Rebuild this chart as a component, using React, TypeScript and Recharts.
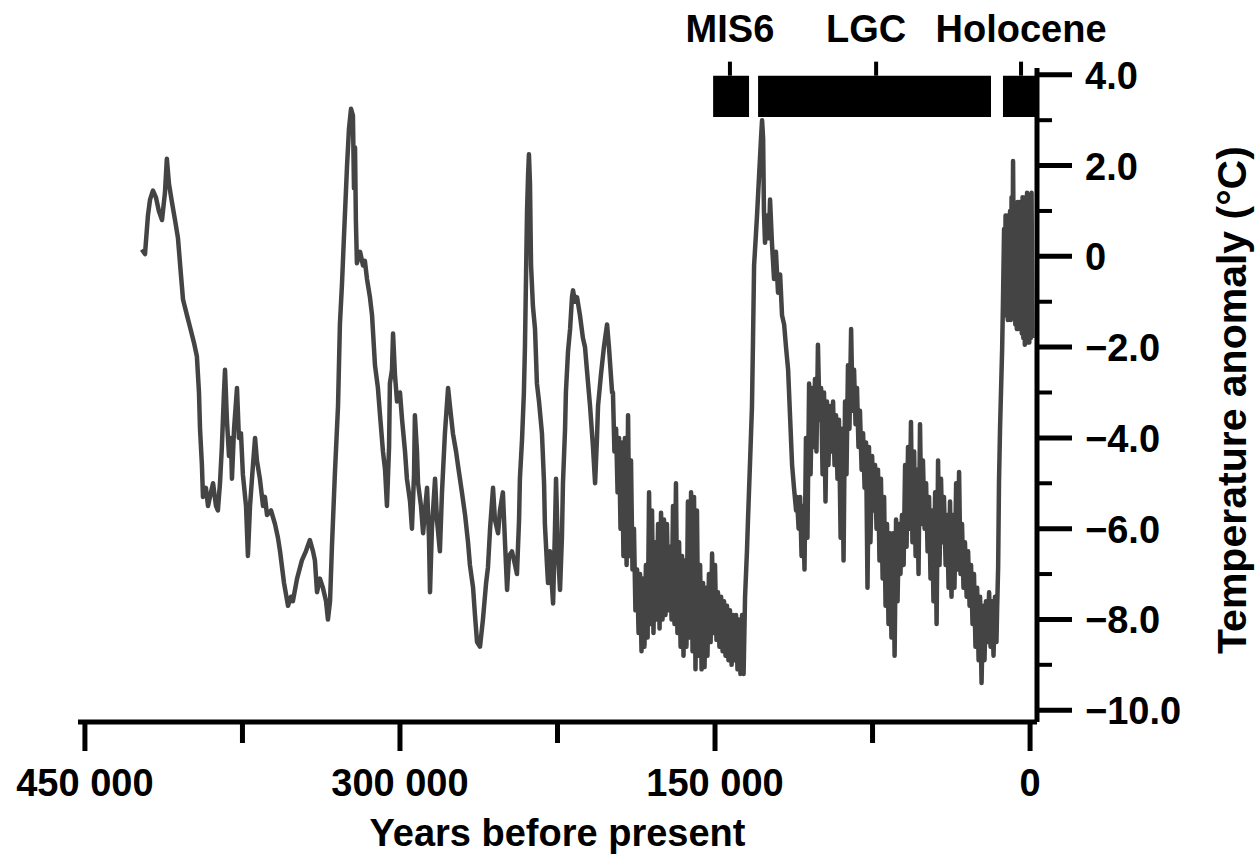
import React from 'react'
import { LineChart, Line, XAxis, YAxis, ReferenceArea, ReferenceLine } from 'recharts'

// age in thousands of years before present
const ageKyr = [
  422.9, 421.4, 420.0, 419.0, 417.6, 416.2, 414.8, 413.3, 411.9, 411.0,
  410.0, 408.6, 407.1, 405.7, 404.3, 403.3, 401.4, 400.0, 398.1, 396.7,
  395.7, 395.2, 394.3, 393.8, 392.4, 391.4, 390.0, 389.0, 387.6, 386.7,
  385.7, 384.8, 383.8, 383.3, 382.4, 381.4, 380.5, 380.0, 379.0, 377.6,
  376.7, 375.7, 374.8, 373.3, 372.4, 371.4, 370.0, 369.0, 368.1, 366.7,
  365.2, 364.3, 363.3, 361.4, 359.5, 358.1, 357.1, 355.2, 353.3, 351.9,
  351.0, 349.0, 346.7, 344.8, 342.9, 341.4, 340.5, 339.5, 338.1, 336.7,
  335.2, 334.3, 333.3, 332.4, 331.0, 329.5, 328.6, 327.6, 326.7, 325.2,
  324.3, 323.3, 322.4, 321.9, 321.4, 321.0, 320.5, 319.0, 317.6, 316.7,
  315.7, 314.3, 313.3, 311.9, 310.5, 309.5, 308.1, 307.1, 306.2, 305.2,
  304.8, 303.8, 303.3, 302.4, 301.4, 300.0, 299.0, 297.6, 296.7, 295.2,
  294.3, 293.3, 292.9, 291.9, 291.4, 290.0, 289.0, 288.1, 287.1, 286.2,
  285.7, 284.8, 283.3, 282.4, 281.0, 280.0, 278.6, 277.1, 276.2, 274.8,
  273.3, 272.4, 270.5, 269.0, 267.6, 266.7, 265.2, 264.3, 263.3, 261.9,
  260.5, 259.0, 258.1, 257.1, 255.7, 254.8, 253.3, 252.4, 251.0, 250.0,
  249.0, 248.1, 246.7, 245.2, 244.3, 243.3, 242.9, 241.9, 241.0, 240.5,
  240.0, 239.5, 239.0, 238.6, 238.1, 237.6, 236.7, 235.7, 234.8, 233.8,
  232.4, 231.4, 231.0, 230.0, 229.5, 228.6, 227.6, 227.1, 226.2, 225.7,
  224.8, 223.8, 222.9, 222.4, 221.4, 221.0, 220.0, 219.0, 218.1, 217.6,
  216.7, 215.7, 214.3, 212.9, 211.9, 211.0, 209.5, 208.1, 207.1, 206.2,
  205.7, 204.3, 202.9, 201.4, 200.5, 199.0,
  // penultimate glacial: upper / lower edge of the dense band
  198.6, 197.9, 197.1, 196.4, 195.7, 195.0, 194.3, 193.6, 192.9, 192.1,
  191.4, 190.7, 190.0, 189.3, 188.6, 187.9, 187.1, 186.4, 185.7, 185.0,
  184.3, 183.6, 182.9, 182.1, 181.4, 180.7, 180.0, 179.3, 178.6, 177.9,
  177.1, 176.4, 175.7, 175.0, 174.3, 173.6, 172.9, 172.1, 171.4, 170.7,
  170.0, 169.3, 168.6, 167.9, 167.1, 166.4, 165.7, 165.0, 164.3, 163.6,
  162.9, 162.1, 161.4, 160.7, 160.0, 159.3, 158.6, 157.9, 157.1, 156.4,
  155.7, 155.0, 154.3, 153.6, 152.9, 152.1, 151.4, 150.7, 150.0, 149.3,
  148.6, 147.9, 147.1, 146.4, 145.7, 145.0, 144.3, 143.6, 142.9, 142.1,
  141.4, 140.7, 140.0, 139.3, 138.6, 137.9, 137.1, 136.4,
  135.7, 134.8, 134.3, 133.3, 132.4, 131.9,
  131.4, 130.5, 130.0, 129.0, 128.1, 127.6, 127.1, 126.7, 126.2, 125.2,
  124.3, 123.8, 122.9, 121.9, 121.0, 120.0, 119.0, 118.1, 117.1, 116.2,
  115.2, 114.3, 113.3, 112.4, 111.4,
  // last glacial: upper / lower edge of the dense band
  111.0, 110.2, 109.5, 108.8, 108.1, 107.4, 106.7, 106.0, 105.2, 104.5,
  103.8, 103.1, 102.4, 101.7, 101.0, 100.2, 99.5, 98.8, 98.1, 97.4,
  96.7, 96.0, 95.2, 94.5, 93.8, 93.1, 92.4, 91.7, 91.0, 90.2,
  89.5, 88.8, 88.1, 87.4, 86.7, 86.0, 85.2, 84.5, 83.8, 83.1,
  82.4, 81.7, 81.0, 80.2, 79.5, 78.8, 78.1, 77.4, 76.7, 76.0,
  75.2, 74.5, 73.8, 73.1, 72.4, 71.7, 71.0, 70.2, 69.5, 68.8,
  68.1, 67.4, 66.7, 66.0, 65.2, 64.5, 63.8, 63.1, 62.4, 61.7,
  61.0, 60.2, 59.5, 58.8, 58.1, 57.4, 56.7, 56.0, 55.2, 54.5,
  53.8, 53.1, 52.4, 51.7, 51.0, 50.2, 49.5, 48.8, 48.1, 47.4,
  46.7, 46.0, 45.2, 44.5, 43.8, 43.1, 42.4, 41.7, 41.0, 40.2,
  39.5, 38.8, 38.1, 37.4, 36.7, 36.0, 35.2, 34.5, 33.8, 33.1,
  32.4, 31.7, 31.0, 30.2, 29.5, 28.8, 28.1, 27.4, 26.7, 26.0,
  25.2, 24.5, 23.8, 23.1, 22.4, 21.7, 21.0, 20.2, 19.5, 18.8,
  18.1, 17.4, 16.7, 16.0,
  15.7, 15.2, 14.8, 14.3, 13.3, 12.9,
  // Holocene band
  12.38, 12.02, 11.67, 11.31, 10.95, 10.6, 10.24, 9.88, 9.52, 9.17,
  8.81, 8.45, 8.1, 7.74, 7.38, 7.02, 6.67, 6.31, 5.95, 5.6,
  5.24, 4.88, 4.29, 3.93, 3.57, 3.21, 2.86, 2.5, 2.14, 1.79,
  1.43, 1.07, 0.71, 0.36, 0.0, -0.36, -0.71, -1.07,
]

// temperature anomaly in °C, same order as ageKyr
const tempAnomaly = [
  0.15, 0.05, 0.9, 1.25, 1.45, 1.3, 1.0, 0.8, 1.4, 2.15,
  1.6, 1.2, 0.8, 0.4, -0.4, -0.95, -1.3, -1.55, -1.9, -2.2,
  -3.0, -3.8, -4.6, -5.3, -5.1, -5.5, -5.2, -5.0, -5.5, -5.6,
  -5.0, -4.2, -3.0, -2.5, -3.6, -4.4, -4.0, -4.9, -3.8, -2.9,
  -4.0, -3.9, -4.8, -5.5, -6.6, -5.5, -4.6, -4.0, -4.5, -4.9,
  -5.5, -5.3, -5.7, -5.6, -5.9, -6.2, -6.5, -7.2, -7.7, -7.5,
  -7.6, -7.1, -6.7, -6.5, -6.25, -6.5, -6.7, -7.4, -7.1, -7.3,
  -7.6, -8.0, -7.6, -6.4, -4.8, -3.3, -1.5, -0.6, 0.4, 2.0,
  2.8, 3.25, 3.1, 1.5, 2.4, 0.8, -0.15, 0.1, -0.2, -0.1,
  -0.5, -0.9, -1.3, -2.4, -2.9, -3.5, -4.3, -4.7, -5.5, -4.2,
  -2.8, -2.5, -1.7, -2.6, -3.2, -3.0, -3.6, -4.3, -4.9, -5.4,
  -6.0, -4.8, -3.5, -4.3, -5.0, -5.5, -6.1, -5.6, -5.1, -6.2,
  -7.4, -6.0, -4.9, -5.8, -6.5, -5.2, -3.9, -2.9, -3.3, -3.9,
  -4.3, -4.6, -5.2, -5.7, -6.3, -6.8, -7.3, -7.9, -8.5, -8.6,
  -8.0, -7.2, -6.85, -6.0, -5.1, -5.8, -6.1, -5.6, -5.2, -6.3,
  -7.35, -6.6, -6.5, -6.8, -7.0, -5.8, -4.9, -4.05, -3.0, -2.0,
  -0.5, 1.0, 1.8, 2.25, 1.6, -0.2, -1.1, -1.6, -2.8, -3.2,
  -3.9, -5.0, -5.9, -6.8, -7.2, -6.5, -7.3, -7.65, -6.0, -4.9,
  -6.5, -7.35, -6.2, -5.0, -3.8, -3.0, -2.1, -1.6, -0.9, -0.75,
  -1.0, -0.9, -1.3, -1.8, -2.0, -2.5, -3.3, -4.2, -5.0, -4.0,
  -3.3, -2.6, -2.0, -1.5, -2.0, -3.0,
  -3.0, -4.3, -3.8, -5.2, -4.0, -6.0, -4.1, -6.6, -4.0, -6.8,
  -3.5, -6.6, -4.5, -6.9, -6.0, -7.8, -6.9, -8.3, -7.0, -8.7,
  -7.1, -8.6, -6.8, -8.4, -5.2, -8.1, -5.6, -8.3, -6.3, -8.0,
  -5.9, -8.2, -5.65, -8.0, -5.8, -7.9, -5.9, -7.8, -6.4, -8.0,
  -5.5, -8.1, -5.0, -8.3, -6.3, -8.6, -6.6, -8.8, -6.7, -8.6,
  -5.4, -8.4, -5.2, -8.7, -5.3, -9.1, -5.6, -8.8, -6.8, -9.1,
  -7.2, -9.05, -7.3, -8.8, -7.0, -8.5, -6.55, -8.3, -6.8, -8.45,
  -7.4, -8.6, -7.5, -8.7, -7.6, -8.8, -7.7, -8.9, -7.8, -9.0,
  -7.9, -8.9, -7.9, -9.1, -8.0, -9.2, -7.9, -9.2,
  -7.5, -6.5, -5.8, -4.5, -3.3, -1.8,
  -0.2, 0.5, 0.9, 1.8, 2.6, 3.0, 2.6, 1.0, 0.3, 0.9,
  0.4, 1.25, 0.3, -0.5, 0.1, -0.8, -0.4, -1.3, -1.5, -2.0,
  -2.5, -3.5, -4.6, -5.1, -5.6,
  -5.3, -6.0, -5.3, -6.6, -5.5, -6.9, -4.0, -6.2, -2.8, -4.8,
  -2.9, -4.2, -2.7, -4.3, -1.95, -3.6, -2.9, -4.8, -3.0, -5.4,
  -3.2, -4.6, -3.3, -4.3, -3.2, -4.6, -3.5, -4.9, -3.6, -6.2,
  -3.8, -6.7, -3.2, -4.8, -2.4, -3.8, -1.6, -3.4, -2.5, -3.7,
  -2.9, -4.2, -3.4, -4.7, -3.9, -5.1, -4.1, -7.3, -4.2, -6.3,
  -4.4, -5.6, -4.6, -6.0, -4.7, -6.7, -4.9, -7.1, -5.3, -7.7,
  -5.9, -8.1, -6.1, -8.4, -6.1, -8.8, -5.8, -7.6, -5.9, -7.0,
  -5.7, -6.8, -4.6, -6.4, -4.2, -6.0, -3.65, -6.3, -4.3, -6.6,
  -4.7, -7.0, -3.7, -5.9, -4.5, -6.0, -5.0, -6.5, -5.3, -7.1,
  -5.6, -7.6, -5.2, -8.1, -4.5, -6.8, -4.9, -6.3, -5.3, -6.8,
  -5.7, -7.3, -5.4, -7.5, -5.7, -7.3, -5.0, -6.9, -4.75, -7.0,
  -5.9, -7.3, -6.3, -7.5, -6.5, -7.7, -6.8, -8.1, -7.0, -8.6,
  -7.3, -8.9, -7.5, -9.4, -7.7, -8.9, -7.6, -8.5, -7.4, -8.6,
  -7.6, -8.8, -7.5, -8.5,
  -7.8, -6.85, -5.0, -3.8, -2.05, -1.0,
  0.6, -1.2, 0.9, -1.3, 0.9, -1.4, 0.8, -1.3, 1.0, -1.4,
  1.3, -1.2, 2.1, -0.3, 0.6, -1.5, 1.0, -1.6, 1.2, -1.6,
  1.2, -1.5, 1.1, -1.7, 1.3, -1.8, 1.2, -1.95, 1.3, -1.9,
  1.4, -1.8, 1.35, -1.9, 1.3, -1.8, 1.4, -1.8,
]

const xTicks = [450, 375, 300, 225, 150, 75, 0]
const xLabelled = [450, 300, 150, 0]
const yTicks = [-10, -9, -8, -7, -6, -5, -4, -3, -2, -1, 0, 1, 2, 3, 4]

// period bars along the top
const periodNames = ['MIS6', 'LGC', 'Holocene']
const periodStart = [150.9, 129.5, 12.9]
const periodEnd = [133.8, 18.6, -3.3]
const periodMark = [142.9, 73.3, 4.3]
const periodLabelAt = [142.9, 78.1, 4.3]
const barBottom = 3.07
const barTop = 3.98
const markTop = 4.29

const data = ageKyr.map((age, i) => ({ age, temp: tempAnomaly[i] }))

const FONT = '"Liberation Sans", Arial, Helvetica, sans-serif'

const fmtY = (v: number) => (v === 0 ? '0' : v < 0 ? '\u2212' + Math.abs(v).toFixed(1) : v.toFixed(1))

function XTick({ x, y, payload }: any) {
  const v = payload.value
  const major = xLabelled.includes(v)
  return (
    <g>
      <line x1={x} y1={y} x2={x} y2={y + (major ? 29 : 21)} stroke="#000" strokeWidth={5} />
      {major && (
        <text x={x} y={y + 74} textAnchor="middle" fontSize={38} fontWeight={700} fontFamily={FONT} fill="#000">
          {v === 0 ? '0' : `${v} 000`}
        </text>
      )}
    </g>
  )
}

function YTick({ x, y, payload }: any) {
  const v = payload.value
  const major = v % 2 === 0
  return (
    <g>
      <line x1={x} y1={y} x2={x + (major ? 35 : 15)} y2={y} stroke="#000" strokeWidth={major ? 5 : 4} />
      {major && (
        <text x={x + 48} y={y + 14} textAnchor="start" fontSize={38} fontWeight={700} fontFamily={FONT} fill="#000">
          {fmtY(v)}
        </text>
      )}
    </g>
  )
}

function XTitle({ viewBox }: any) {
  const vb = viewBox || { x: 78, y: 722, width: 959, height: 134 }
  return (
    <text x={vb.x + vb.width / 2} y={vb.y + vb.height - 10} textAnchor="middle" fontSize={38} fontWeight={700} fontFamily={FONT} fill="#000">
      Years before present
    </text>
  )
}

function YTitle({ viewBox }: any) {
  const vb = viewBox || { x: 1037, y: 68, width: 222, height: 654 }
  const tx = vb.x + vb.width - 13
  const ty = vb.y + vb.height / 2 + 5
  return (
    <text x={tx} y={ty} transform={`rotate(-90 ${tx} ${ty})`} textAnchor="middle" fontSize={41} fontWeight={700} fontFamily={FONT} fill="#000">
      Temperature anomaly (°C)
    </text>
  )
}

export default function App() {
  return (
    <div style={{ position: 'absolute', left: 0, top: 0, background: '#fff' }}>
      <LineChart width={1259} height={856} data={data} margin={{ top: 68, right: 0, bottom: 0, left: 78 }}>
        <XAxis
          type="number"
          dataKey="age"
          domain={[-3.3, 453.3]}
          reversed
          allowDataOverflow
          ticks={xTicks}
          interval={0}
          height={134}
          tickSize={0}
          tickMargin={0}
          tickLine={false}
          axisLine={{ stroke: '#000', strokeWidth: 5 }}
          tick={<XTick />}
          label={<XTitle />}
        />
        <YAxis
          type="number"
          orientation="right"
          domain={[-10.26, 4.15]}
          allowDataOverflow
          ticks={yTicks}
          interval={0}
          width={222}
          tickSize={0}
          tickMargin={0}
          tickLine={false}
          axisLine={{ stroke: '#000', strokeWidth: 5 }}
          tick={<YTick />}
          label={<YTitle />}
        />
        <Line
          type="linear"
          dataKey="temp"
          stroke="#444"
          strokeWidth={4.5}
          strokeLinejoin="round"
          dot={false}
          isAnimationActive={false}
        />
        {periodNames.map((name, i) => (
          <ReferenceArea
            key={`bar-${name}`}
            x1={periodStart[i]}
            x2={periodEnd[i]}
            y1={barBottom}
            y2={barTop}
            fill="#000"
            fillOpacity={1}
            stroke="none"
            ifOverflow="visible"
          />
        ))}
        {periodNames.map((name, i) => (
          <ReferenceLine
            key={`mark-${name}`}
            segment={[{ x: periodMark[i], y: barTop }, { x: periodMark[i], y: markTop }]}
            stroke="#000"
            strokeWidth={4}
            ifOverflow="visible"
          />
        ))}
        {periodNames.map((name, i) => (
          <ReferenceLine
            key={`label-${name}`}
            segment={[{ x: periodLabelAt[i], y: markTop }, { x: periodLabelAt[i], y: markTop }]}
            stroke="none"
            ifOverflow="visible"
            label={{ value: name, position: 'top', offset: 20, fontSize: 38, fontWeight: 700, fill: '#000', fontFamily: FONT }}
          />
        ))}
      </LineChart>
    </div>
  )
}
